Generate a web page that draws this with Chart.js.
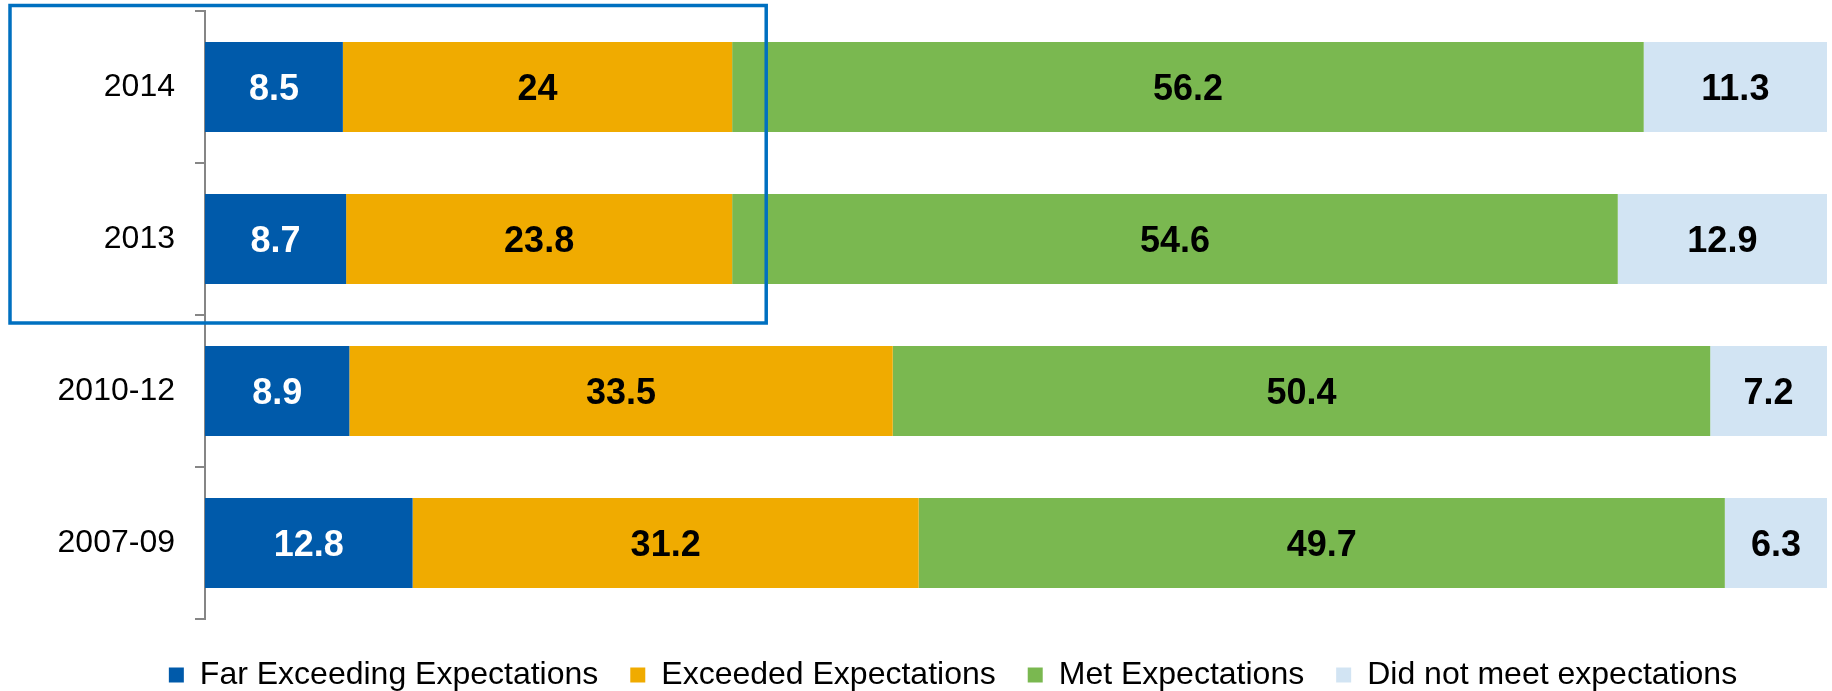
<!DOCTYPE html>
<html>
<head>
<meta charset="utf-8">
<script src="https://cdn.jsdelivr.net/npm/chart.js@4"></script>
<style>
  html, body { margin: 0; padding: 0; background: #fff; }
  #wrap { width: 1832px; height: 691px; position: relative; }
</style>
</head>
<body>
<div id="wrap"><canvas id="ratingsChart"></canvas></div>
<script>
const periods = ['2014', '2013', '2010-12', '2007-09'];
const farExceeding = [8.5, 8.7, 8.9, 12.8];
const exceeded = [24, 23.8, 33.5, 31.2];
const met = [56.2, 54.6, 50.4, 49.7];
const didNotMeet = [11.3, 12.9, 7.2, 6.3];

const seriesNames = ['Far Exceeding Expectations', 'Exceeded Expectations', 'Met Expectations', 'Did not meet expectations'];
const seriesColors = ['#005AAA', '#F0AB00', '#7AB850', '#D2E4F3'];
const labelColors = ['#FFFFFF', '#000000', '#000000', '#000000'];

// highlighted box round the two most recent years
const highlightPeriods = ['2014', '2013'];
const highlightUpTo = 34.6;

const FONT = '"Liberation Sans", Arial, sans-serif';

// Write each value in the middle of its bar segment
const valueLabels = {
    id: 'valueLabels',
    afterDatasetsDraw(chart) {
        const ctx = chart.ctx;
        ctx.save();
        ctx.font = 'bold 36px ' + FONT;
        ctx.textAlign = 'center';
        ctx.textBaseline = 'middle';
        chart.data.datasets.forEach((ds, i) => {
            chart.getDatasetMeta(i).data.forEach((bar, j) => {
                const p = bar.getProps(['x', 'y', 'base'], true);
                ctx.fillStyle = labelColors[i];
                ctx.fillText(String(ds.data[j]), (p.x + p.base) / 2, p.y + 3);
            });
        });
        ctx.restore();
    }
};

const highlightBox = {
    id: 'highlightBox',
    afterDraw(chart) {
        const ctx = chart.ctx;
        const x = chart.scales.x;
        const y = chart.scales.y;
        const first = periods.indexOf(highlightPeriods[0]);
        const last = periods.indexOf(highlightPeriods[highlightPeriods.length - 1]);
        const top = y.getPixelForValue(first - 0.5) - 5.5;
        const bottom = y.getPixelForValue(last + 0.5) + 8;
        const left = 10;
        const right = x.getPixelForValue(highlightUpTo);
        ctx.save();
        ctx.strokeStyle = '#0070C0';
        ctx.lineWidth = 3.5;
        ctx.strokeRect(left, top, right - left, bottom - top);
        ctx.restore();
    }
};

// legend sits a bit right of the page centre in the original
const legendOffset = {
    id: 'legendOffset',
    afterLayout(chart) {
        chart.legend.left += 79;
    }
};

const series = [farExceeding, exceeded, met, didNotMeet];

new Chart(document.getElementById('ratingsChart'), {
    type: 'bar',
    data: {
        labels: periods,
        datasets: series.map((data, i) => ({
            label: seriesNames[i],
            data: data,
            backgroundColor: seriesColors[i],
            borderWidth: 0,
            barPercentage: 0.592,
            categoryPercentage: 1
        }))
    },
    options: {
        indexAxis: 'y',
        responsive: true,
        maintainAspectRatio: false,
        animation: false,
        layout: {
            padding: { left: 0, right: 5, top: 11, bottom: -10 }
        },
        plugins: {
            legend: {
                position: 'bottom',
                labels: {
                    boxWidth: 15,
                    boxHeight: 15,
                    padding: 32,
                    color: '#000',
                    font: { family: FONT, size: 32 }
                }
            },
            tooltip: { enabled: false }
        },
        scales: {
            x: {
                stacked: true,
                min: 0,
                max: 100,
                afterFit: (scale) => { scale.height = 8; },
                grid: { display: false },
                border: { display: false },
                ticks: { display: false }
            },
            y: {
                stacked: true,
                afterFit: (scale) => {
                    scale.width = 205;
                    scale.paddingTop = 0;
                    scale.paddingBottom = 0;
                },
                grid: {
                    offset: true,
                    drawOnChartArea: false,
                    drawTicks: true,
                    tickLength: 10,
                    color: '#868686',
                    lineWidth: 2
                },
                border: {
                    display: true,
                    color: '#868686',
                    width: 2
                },
                ticks: {
                    color: '#000',
                    padding: 20,
                    font: { family: FONT, size: 32 }
                }
            }
        }
    },
    plugins: [valueLabels, highlightBox, legendOffset]
});
</script>
</body>
</html>
